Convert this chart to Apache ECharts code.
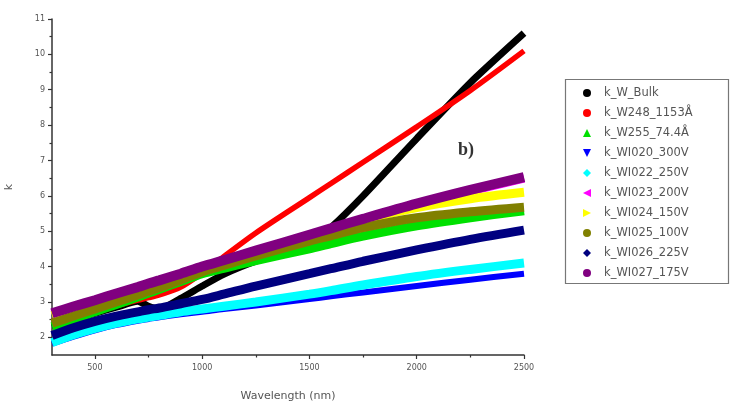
<!DOCTYPE html>
<html>
<head>
<meta charset="utf-8">
<script src="https://cdn.jsdelivr.net/npm/echarts@6/dist/echarts.min.js"></script>
<style>html,body{margin:0;padding:0;background:#fff;}#c{width:733px;height:404px;}</style>
</head>
<body>
<div id="c"></div>
<script>
// Wavelength grid (nm)
const wavelength = [300, 400, 500, 600, 700, 750, 800, 900, 1000, 1100, 1250, 1500, 1600, 1750, 2000, 2250, 2500];
// k values per sample
const kBulk   = [2.30, 2.50, 2.68, 2.85, 3.02, 2.88, 2.80, 3.10, 3.45, 3.78, 4.15, 4.60, 5.10, 6.00, 7.62, 9.20, 10.60];
const kW248   = [2.45, 2.60, 2.75, 2.90, 3.05, 3.12, 3.20, 3.42, 3.82, 4.28, 4.95, 5.95, 6.35, 6.95, 7.95, 8.98, 10.10];
const kW255   = [2.30, 2.50, 2.72, 2.93, 3.14, 3.25, 3.36, 3.58, 3.80, 3.95, 4.17, 4.50, 4.65, 4.86, 5.15, 5.38, 5.58];
const kWI020  = [1.82, 2.02, 2.20, 2.35, 2.47, 2.52, 2.57, 2.65, 2.72, 2.80, 2.90, 3.08, 3.16, 3.27, 3.45, 3.63, 3.80];
const kWI022  = [1.85, 2.07, 2.25, 2.40, 2.52, 2.57, 2.62, 2.72, 2.80, 2.88, 3.00, 3.22, 3.32, 3.48, 3.72, 3.92, 4.10];
const kWI023  = [2.66, 2.85, 3.03, 3.22, 3.40, 3.50, 3.59, 3.78, 3.98, 4.16, 4.43, 4.88, 5.06, 5.33, 5.76, 6.14, 6.50];
const kWI024  = [2.62, 2.82, 3.01, 3.21, 3.39, 3.48, 3.57, 3.76, 3.96, 4.14, 4.42, 4.88, 5.06, 5.32, 5.67, 5.92, 6.10];
const kWI025  = [2.40, 2.60, 2.80, 3.00, 3.20, 3.30, 3.40, 3.62, 3.85, 4.03, 4.30, 4.72, 4.87, 5.10, 5.38, 5.55, 5.68];
const kWI026  = [2.05, 2.27, 2.45, 2.60, 2.72, 2.78, 2.83, 2.95, 3.07, 3.22, 3.45, 3.80, 3.94, 4.15, 4.47, 4.77, 5.03];
const kWI027  = [2.68, 2.87, 3.05, 3.24, 3.42, 3.52, 3.61, 3.80, 4.00, 4.18, 4.45, 4.90, 5.08, 5.35, 5.78, 6.17, 6.53];

const seriesNames = ['k_W_Bulk', 'k_W248_1153Å', 'k_W255_74.4Å', 'k_WI020_300V', 'k_WI022_250V',
                     'k_WI023_200V', 'k_WI024_150V', 'k_WI025_100V', 'k_WI026_225V', 'k_WI027_175V'];
const seriesValues = [kBulk, kW248, kW255, kWI020, kWI022, kWI023, kWI024, kWI025, kWI026, kWI027];

const xTicks = [500, 1000, 1500, 2000, 2500];
const xMinorTicks = [750, 1250, 1750, 2250];
const yTicks = [2, 3, 4, 5, 6, 7, 8, 9, 10, 11];
const yMinorTicks = [2.5, 3.5, 4.5, 5.5, 6.5, 7.5, 8.5, 9.5, 10.5];

const colors = ['#000000', '#ff0000', '#00e000', '#0000ff', '#00ffff', '#ff00ff', '#ffff00', '#808000', '#000080', '#800080'];
const widths = [7, 5.5, 9, 6, 9, 9, 9, 9, 9, 10];
const smoothness = [0.2, 0.3, 0.3, 0.3, 0.3, 0.3, 0.3, 0.3, 0.3, 0.3];
const icons = ['circle', 'circle', 'triangle', 'path://M0,0L10,0L5,10Z', 'diamond',
               'path://M10,0L10,10L0,5Z', 'path://M0,0L0,10L10,5Z', 'circle', 'diamond', 'circle'];

const chart = echarts.init(document.getElementById('c'), null, {renderer: 'canvas'});

const axisColor = '#333';
const labelColor = '#555';

const series = seriesNames.map((name, i) => ({
  name: name,
  type: 'line',
  xAxisIndex: 0,
  yAxisIndex: 0,
  data: wavelength.map((w, j) => [w, seriesValues[i][j]]),
  showSymbol: false,
  symbol: 'none',
  smooth: smoothness[i],
  lineStyle: {color: colors[i], width: widths[i], cap: 'butt'},
  itemStyle: {color: colors[i]},
  silent: true,
  animation: false
}));

chart.setOption({
  animation: false,
  backgroundColor: '#fff',
  grid: {left: 52, right: 209, top: 19, bottom: 49, containLabel: false, outerBoundsMode: 'none'},
  xAxis: [{
    type: 'value', min: 300, max: 2500, position: 'bottom',
    name: 'Wavelength (nm)', nameLocation: 'middle', nameGap: 36,
    nameTextStyle: {color: labelColor, fontSize: 11, fontFamily: 'DejaVu Sans'},
    axisLine: {show: true, lineStyle: {color: axisColor, width: 1.5}},
    axisTick: {show: true, customValues: xTicks, length: 4, inside: false, lineStyle: {color: axisColor, width: 1.2}},
    axisLabel: {show: true, customValues: xTicks, formatter: v => String(v), color: labelColor, fontSize: 8, fontFamily: 'DejaVu Sans', margin: 9},
    splitLine: {show: false}
  }, {
    type: 'value', min: 300, max: 2500, position: 'bottom', gridIndex: 0,
    axisLine: {show: false},
    axisTick: {show: true, customValues: xMinorTicks, length: 2.5, lineStyle: {color: axisColor, width: 1.2}},
    axisLabel: {show: false},
    splitLine: {show: false}
  }],
  yAxis: [{
    type: 'value', min: 1.5, max: 11, position: 'left',
    name: 'k', nameLocation: 'middle', nameGap: 37, nameRotate: 90,
    nameTextStyle: {color: labelColor, fontSize: 11, fontFamily: 'DejaVu Sans'},
    axisLine: {show: true, lineStyle: {color: axisColor, width: 1.5}},
    axisTick: {show: true, customValues: yTicks, length: 4, lineStyle: {color: axisColor, width: 1.2}},
    axisLabel: {show: true, customValues: yTicks, formatter: v => String(v), color: labelColor, fontSize: 8, fontFamily: 'DejaVu Sans', margin: 7},
    splitLine: {show: false}
  }, {
    type: 'value', min: 1.5, max: 11, position: 'left', gridIndex: 0,
    axisLine: {show: false},
    axisTick: {show: true, customValues: yMinorTicks, length: 2.5, lineStyle: {color: axisColor, width: 1.2}},
    axisLabel: {show: false},
    splitLine: {show: false}
  }],
  legend: {
    orient: 'vertical',
    left: 583, top: 87,
    itemWidth: 8, itemHeight: 8, itemGap: 8,
    padding: 0,
    selectedMode: false,
    textStyle: {color: labelColor, fontSize: 11.5, fontFamily: 'DejaVu Sans', lineHeight: 12, padding: [0, 0, 0, 8]},
    data: seriesNames.map((n, i) => ({name: n, icon: icons[i], itemStyle: {color: colors[i]}}))
  },
  graphic: [
    {type: 'rect', shape: {x: 565.5, y: 79.5, width: 163, height: 204},
     style: {fill: 'none', stroke: '#777', lineWidth: 1.2}, silent: true, z: 100},
    {type: 'text', left: 458, top: 141,
     style: {text: 'b)', fill: '#333', font: 'bold 18px "Liberation Serif", "DejaVu Serif", serif'}, z: 100}
  ],
  series: series
});
</script>
</body>
</html>
